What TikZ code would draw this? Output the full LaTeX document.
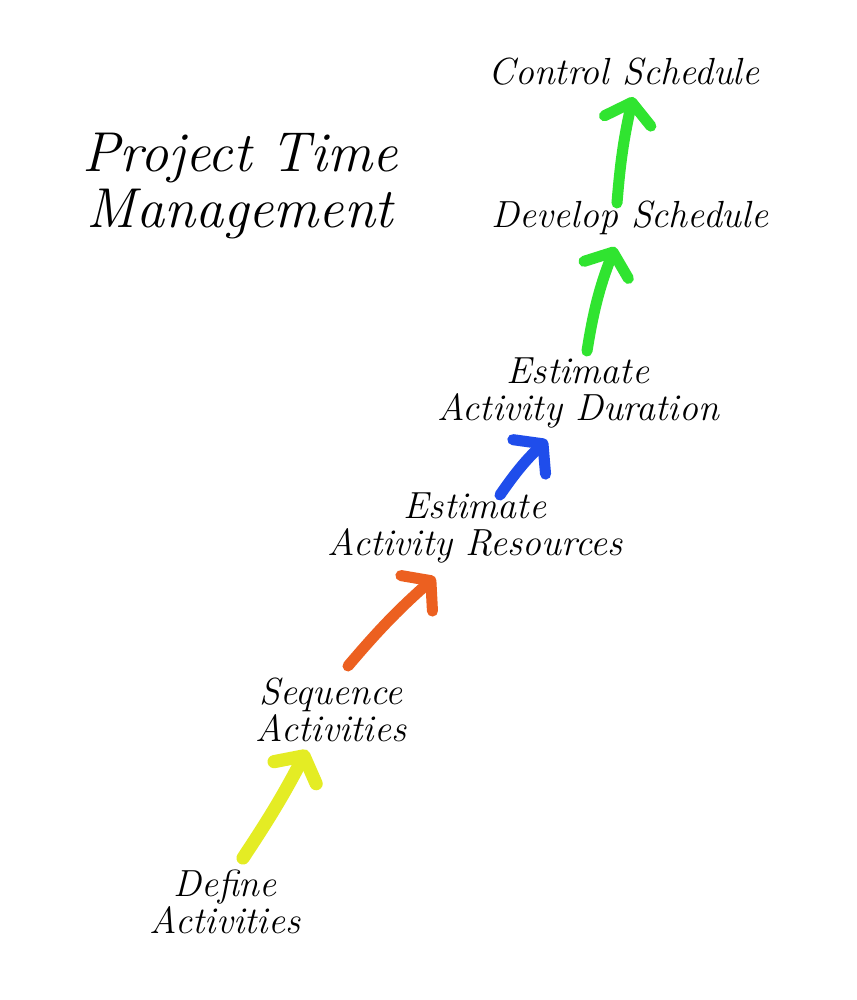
\documentclass[tikz,border=0pt]{standalone}
\usetikzlibrary{arrows.meta,positioning}

\definecolor{penyellow}{HTML}{E4EC24}
\definecolor{penorange}{HTML}{EC6020}
\definecolor{penblue}{HTML}{1F4DEB}
\definecolor{pengreen}{HTML}{30E430}

\begin{document}
\begin{tikzpicture}[
  x=0.02cm, y=-0.02cm,
  stage/.style={align=center, font=\fontsize{21.5}{21}\selectfont\itshape, inner sep=0pt},
  heading/.style={align=center, font=\fontsize{32}{32}\selectfont\itshape, inner sep=0pt},
  arrow/.style={draw=#1, line width=6.3pt, line cap=round,
    -{Straight Barb[length=3.8mm, width=9.5mm, line cap=round, round]}}
]
\useasboundingbox[fill=white] (0,0) rectangle (856,1000);

% Title
\node[heading] (title) at (240,186) {Project Time\\Management};

% Stages
\node[stage] (define) at (225,902) {Define\\Activities};
\node[stage] (sequence) at (331,710) {Sequence\\Activities};
\node[stage] (resources) at (475,528) {Estimate\\Activity Resources};
\node[stage] (duration) at (578,393) {Estimate\\Activity Duration};
\node[stage] (develop) at (630,218) {Develop Schedule};
\node[stage] (control) at (624,72) {Control Schedule};

% Connect the stages
\draw[arrow=penyellow, line width=7.5pt] ([shift={(18,-44)}]define.center) to[bend right=3] ([shift={(-24,40)}]sequence.center);
\draw[arrow=penorange] ([shift={(17,-44)}]sequence.center) to[bend left=4] ([shift={(-40,49)}]resources.center);
\draw[arrow=penblue] ([shift={(25,-33)}]resources.center) to[bend left=6] ([shift={(-31,47)}]duration.center);
\draw[arrow=pengreen] ([shift={(9,-42)}]duration.center) to[bend left=6] ([shift={(-15,29)}]develop.center);
\draw[arrow=pengreen] ([shift={(-13,-15)}]develop.center) to[bend left=4] ([shift={(9,25)}]control.center);

\end{tikzpicture}
\end{document}
